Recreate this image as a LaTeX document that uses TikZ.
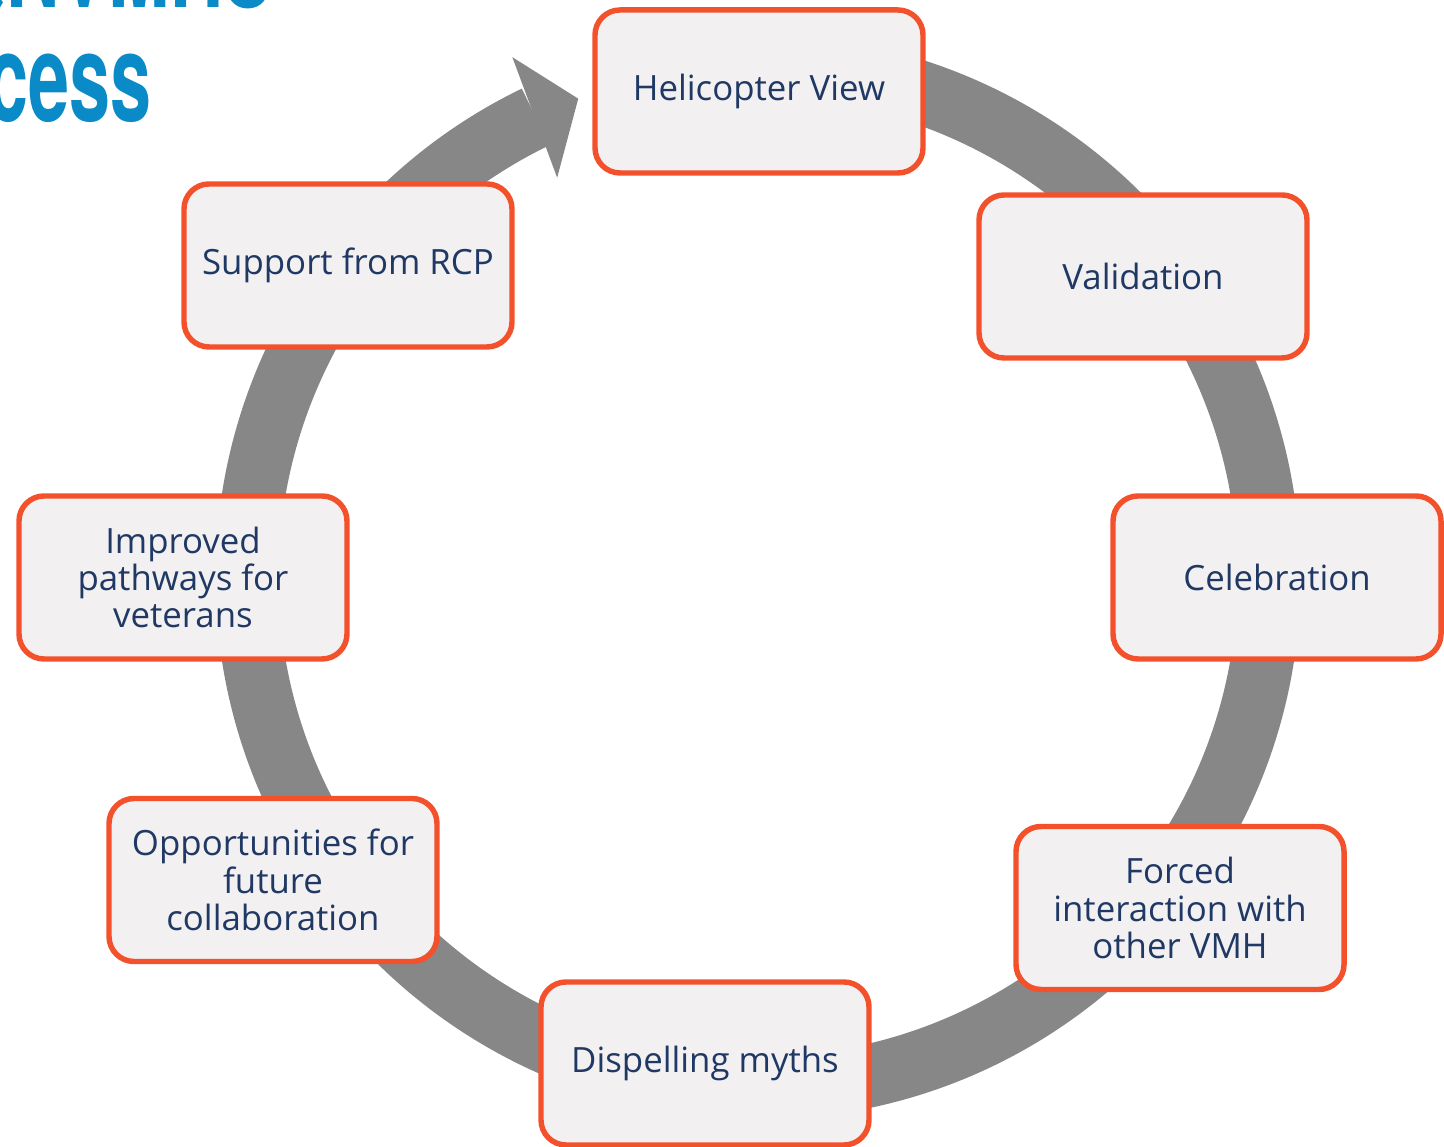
\documentclass[tikz,border=0pt]{standalone}
\usepackage{fontspec}
\setmainfont{Open Sans}
\newfontfamily\headfont{TeX Gyre Heros}
\usepackage{tikz}
\usetikzlibrary{calc}
\definecolor{ringgray}{HTML}{878787}
\definecolor{boxedge}{HTML}{F2512B}
\definecolor{boxfill}{HTML}{F2F0F1}
\definecolor{boxtext}{HTML}{203864}
\definecolor{headblue}{HTML}{0A8BC8}
\tikzset{
	stagebox/.style={draw=boxedge, line width=1.55pt, fill=boxfill, rounded corners=0.25cm,
		minimum width=3.28cm, minimum height=1.63cm, align=center, text=boxtext,
		font=\fontsize{9.9}{10.6}\selectfont},
	headline/.style={text=headblue, font=\headfont\bfseries\fontsize{35}{35}\selectfont,
		xscale=0.6, inner sep=0pt}
}

\begin{document}
\begin{tikzpicture}
			%%%%% START %%%%%
			\useasboundingbox (0, 0) rectangle (14.44, 11.47);
			\clip (0, 0) rectangle (14.44, 11.47);
			
			% title, runs off the left edge
			\node[headline, anchor=base east] (titletop) at (2.73, 11.39) {QNVMHS};
			\node[headline, anchor=base east] (titlebot) at (1.52, 10.25) {Process};
			
			% grey ring with its arrow head
			\coordinate (c) at (7.58, 5.70);
			\draw[line width=0.63cm, ringgray] ($(c)+(90:5.11)$) arc[start angle=90, end angle=-244.2, radius=5.11];
			\fill[ringgray] ($(c)+(115.3:5.75)$) -- ($(c)+(110.6:5.11)$) -- ($(c)+(116.7:4.47)$) -- cycle;
			
			% stages round the ring
			\node[stagebox] (heli) at (7.59, 10.555) {Helicopter View};
			\node[stagebox] (valid) at (11.43, 8.705) {Validation};
			\node[stagebox] (celeb) at (12.77, 5.695) {Celebration};
			\node[stagebox] (forced) at (11.80, 2.39) {Forced\\interaction with\\other VMH};
			\node[stagebox] (dispel) at (7.05, 0.835) {Dispelling myths};
			\node[stagebox] (oppor) at (2.73, 2.67) {Opportunities for\\future\\collaboration};
			\node[stagebox] (improv) at (1.83, 5.695) {Improved\\pathways for\\veterans};
			\node[stagebox] (support) at (3.48, 8.815) {Support from RCP};
			
			%%%%% END %%%%%
\end{tikzpicture}
\end{document}
